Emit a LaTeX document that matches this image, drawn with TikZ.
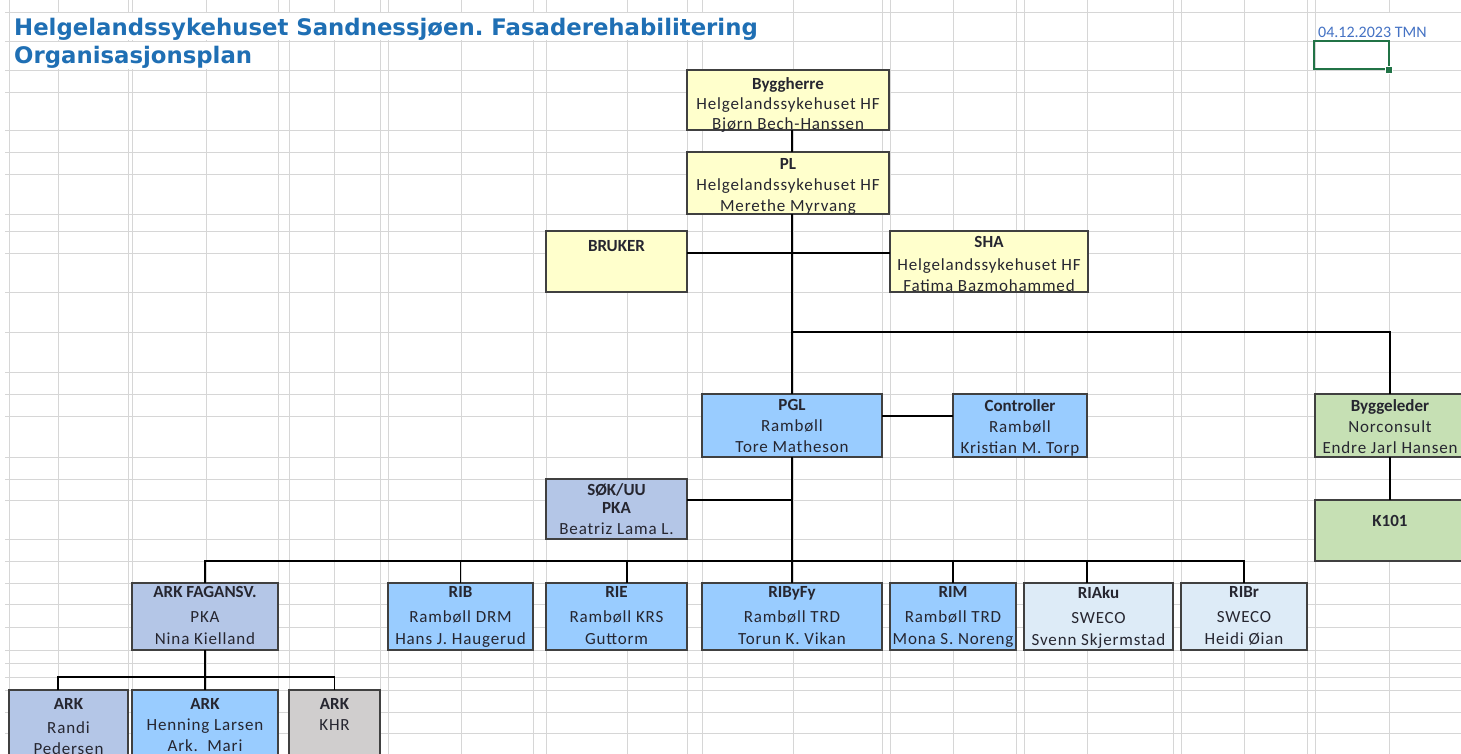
\documentclass[tikz,border=0pt]{standalone}
\usepackage{fontspec}
\setmainfont{Carlito}[LetterSpace=5, BoldFeatures={LetterSpace=0}]
\newfontfamily\datefont{Carlito}
\newfontfamily\titlefont{DejaVu Sans}
\definecolor{boxyellow}{RGB}{255,255,204}
\definecolor{boxblue}{RGB}{153,204,255}
\definecolor{boxlav}{RGB}{180,198,231}
\definecolor{boxpale}{RGB}{221,235,247}
\definecolor{boxgreen}{RGB}{198,224,180}
\definecolor{boxgrey}{RGB}{208,206,206}
\definecolor{gridgrey}{RGB}{214,214,214}
\definecolor{titleblue}{RGB}{31,111,180}
\definecolor{dateblue}{RGB}{68,114,196}
\definecolor{cellgreen}{RGB}{33,115,70}
\definecolor{txtdark}{RGB}{38,38,48}
\frenchspacing

\begin{document}
\begin{tikzpicture}[x=1pt,y=-1pt]
        \tikzstyle{cellline} = [draw=gridgrey, line width=0.9pt]
        \tikzstyle{unit} = [draw=black!75, line width=1.2pt, inner sep=0pt, outer sep=0pt, anchor=north west]
        \tikzstyle{txt} = [anchor=north, inner sep=0pt, align=center, text=txtdark, font=\fontsize{17}{21}\selectfont, execute at begin node=\strut]
        \tikzstyle{link} = [draw=black, line width=1.3pt]

        \useasboundingbox (0,0) rectangle (1461,754);
        \fill[white] (0,0) rectangle (1461,754);

        % sheet grid
        \foreach \x in {9,58,128,132,206,278,289,334,380,388,461,533,546,627,687,702,793,882,890,953,1016,1024,1087,1173,1181,1244,1307,1315,1389}
            \draw[cellline] (\x,0) -- (\x,754);
        \foreach \y in {12,41,70,92,130,152,174,214,231,253,292,332,372,394,416,457,479,500,539,561,583,604,627,650,663,677,690,712,733}
            \draw[cellline] (5,\y) -- (1461,\y);
        % overflowing texts hide the grid
        \fill[white] (9.6,12.6) rectangle (780,40.4);
        \fill[white] (9.6,41.6) rectangle (277,69.4);
        \fill[white] (1316,12.6) rectangle (1440,40.4);

        \node[anchor=base west, inner sep=0pt, text=titleblue, font=\titlefont\bfseries\fontsize{22.8}{26}\selectfont] (title) at (14,36) {Helgelandssykehuset Sandnessjøen. Fasaderehabilitering};
        \node[anchor=base west, inner sep=0pt, text=titleblue, font=\titlefont\bfseries\fontsize{22.8}{26}\selectfont] (subtitle) at (14,64) {Organisasjonsplan};
        \node[anchor=base west, inner sep=0pt, text=dateblue, font=\datefont\fontsize{16}{19}\selectfont] (date) at (1318,37.5) {04.12.2023 TMN};

        % selected cell
        \draw[cellgreen, line width=2pt] (1314,41.5) rectangle (1389,69.5);
        \fill[cellgreen, draw=white, line width=0.8pt] (1385.5,66) rectangle (1392.5,73);

        % boxes
        \node[unit, fill=boxyellow, minimum width=202pt, minimum height=60pt] (bh) at (687,70) {};
        \node[unit, fill=boxyellow, minimum width=202pt, minimum height=62pt] (pl) at (687,152) {};
        \node[unit, fill=boxyellow, minimum width=141pt, minimum height=61pt] (br) at (546,231) {};
        \node[unit, fill=boxyellow, minimum width=198pt, minimum height=61pt] (sha) at (890,231) {};
        \node[unit, fill=boxblue, minimum width=180pt, minimum height=63pt] (pgl) at (702,394) {};
        \node[unit, fill=boxblue, minimum width=134pt, minimum height=63pt] (ctrl) at (953,394) {};
        \node[unit, fill=boxgreen, minimum width=150pt, minimum height=63pt] (bl) at (1315,394) {};
        \node[unit, fill=boxgreen, minimum width=150pt, minimum height=61pt] (k101) at (1315,500) {};
        \node[unit, fill=boxlav, minimum width=141pt, minimum height=60pt] (sok) at (546,479) {};
        \node[unit, fill=boxlav, minimum width=146pt, minimum height=67pt] (ark) at (132,583) {};
        \node[unit, fill=boxblue, minimum width=145pt, minimum height=67pt] (rib) at (388,583) {};
        \node[unit, fill=boxblue, minimum width=141pt, minimum height=67pt] (rie) at (546,583) {};
        \node[unit, fill=boxblue, minimum width=180pt, minimum height=67pt] (riby) at (702,583) {};
        \node[unit, fill=boxblue, minimum width=126pt, minimum height=67pt] (rim) at (890,583) {};
        \node[unit, fill=boxpale, minimum width=149pt, minimum height=67pt] (riak) at (1024,583) {};
        \node[unit, fill=boxpale, minimum width=126pt, minimum height=67pt] (ribr) at (1181,583) {};
        \node[unit, fill=boxlav, minimum width=119pt, minimum height=70pt] (arkr) at (9,690) {};
        \node[unit, fill=boxblue, minimum width=146pt, minimum height=70pt] (arkh) at (132,690) {};
        \node[unit, fill=boxgrey, minimum width=91pt, minimum height=70pt] (arkk) at (289,690) {};

        % box texts
        \node[txt, font=\fontsize{17}{20}\selectfont] (bh-t) at ([yshift=-7pt]bh.north) {\textbf{Byggherre}\\Helgelandssykehuset HF\\Bjørn Bech-Hanssen};
        \node[txt] (pl-t) at ([yshift=-6.5pt]pl.north) {\textbf{PL}\\Helgelandssykehuset HF\\Merethe Myrvang};
        \node[txt] (br-t) at ([yshift=-5.5pt]br.north) {\textbf{BRUKER}};
        \node[txt] (sha-t) at ([yshift=-5.5pt]sha.north) {\textbf{SHA}\\[1.5pt]Helgelandssykehuset HF\\Fatima Bazmohammed};
        \node[txt] (pgl-t) at ([yshift=-5.5pt]pgl.north) {\textbf{PGL}\\Rambøll\\Tore Matheson};
        \node[txt] (ctrl-t) at ([yshift=-5.5pt]ctrl.north) {\textbf{Controller}\\Rambøll\\Kristian M. Torp};
        \node[txt] (bl-t) at ([yshift=-5.5pt]bl.north) {\textbf{Byggeleder}\\Norconsult\\Endre Jarl Hansen};
        \node[txt] (k101-t) at ([yshift=-11.5pt]k101.north) {\textbf{K101}};
        \node[txt] (sok-t) at ([yshift=-4.5pt]sok.north) {\textbf{SØK/UU}\\[-3pt]\textbf{PKA}\\Beatriz Lama L.};
        \node[txt, font=\fontsize{17}{22}\selectfont] (ark-t) at ([yshift=-3.5pt]ark.north) {\textbf{ARK FAGANSV.}\\[3pt]PKA\\Nina Kielland};
        \node[txt, font=\fontsize{17}{22}\selectfont] (rib-t) at ([yshift=-3.5pt]rib.north) {\textbf{RIB}\\[3pt]Rambøll DRM\\Hans J. Haugerud};
        \node[txt, font=\fontsize{17}{22}\selectfont] (rie-t) at ([yshift=-3.5pt]rie.north) {\textbf{RIE}\\[3pt]Rambøll KRS\\Guttorm};
        \node[txt, font=\fontsize{17}{22}\selectfont] (riby-t) at ([yshift=-3.5pt]riby.north) {\textbf{RIByFy}\\[3pt]Rambøll TRD\\Torun K. Vikan};
        \node[txt, font=\fontsize{17}{22}\selectfont] (rim-t) at ([yshift=-3.5pt]rim.north) {\textbf{RIM}\\[3pt]Rambøll TRD\\Mona S. Noreng};
        \node[txt, font=\fontsize{17}{22}\selectfont] (riak-t) at ([yshift=-3.5pt]riak.north) {\textbf{RIAku}\\[3pt]SWECO\\Svenn Skjermstad};
        \node[txt, font=\fontsize{17}{22}\selectfont] (ribr-t) at ([yshift=-3.5pt]ribr.north) {\textbf{RIBr}\\[3pt]SWECO\\Heidi Øian};
        \node[txt] (arkr-t) at ([yshift=-8pt]arkr.north) {\textbf{ARK}\\[3pt]Randi\\Pedersen};
        \node[txt] (arkh-t) at ([yshift=-8pt]arkh.north) {\textbf{ARK}\\Henning Larsen\\Ark.~~Mari};
        \node[txt] (arkk-t) at ([yshift=-8pt]arkk.north) {\textbf{ARK}\\KHR};

        % junctions on the trunk
        \coordinate (side) at (793,253);
        \coordinate (split) at (793,332);
        \coordinate (sokj) at (793,500);
        \coordinate (bar) at (793,561);
        \coordinate (arkbar) at (206,677);

        \draw[link] (bh.south -| pgl.north) -- (pl.north -| pgl.north);
        \draw[link] (pl.south -| pgl.north) -- (pgl.north);
        \draw[link] (br.east |- side) -- (sha.west |- side);
        \draw[link] (split) -| (bl.north);
        \draw[link] (bl.south) -- (k101.north);
        \draw[link] ([yshift=9.5pt]pgl.east) -- ([yshift=9.5pt]ctrl.west);
        \draw[link] (pgl.south) -- (riby.north);
        \draw[link] (sok.east |- sokj) -- (sokj);
        \draw[link] (ark.north) |- (bar) -| (ribr.north);
        \draw[link] (rib.north) -- (rib.north |- bar);
        \draw[link] ([xshift=10.5pt]rie.north) -- ([xshift=10.5pt]rie.north |- bar);
        \draw[link] (rim.north) -- (rim.north |- bar);
        \draw[link] ([xshift=-11.5pt]riak.north) -- ([xshift=-11.5pt]riak.north |- bar);
        \draw[link] (ark.south) -- (arkh.north);
        \draw[link] ([xshift=-10.5pt]arkr.north) |- (arkbar) -| (arkk.north);

    \end{tikzpicture}
\end{document}
